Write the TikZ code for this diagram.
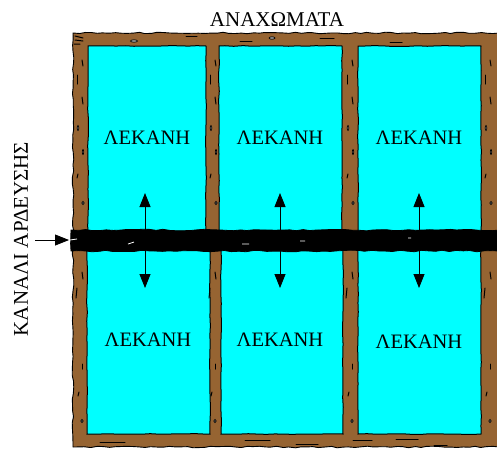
\documentclass[tikz,border=0pt]{standalone}
\usepackage{fontspec}
\setmainfont{Liberation Serif}
\usetikzlibrary{arrows.meta,decorations.pathmorphing}
\definecolor{wood}{RGB}{150,100,50}
\definecolor{basin}{RGB}{0,255,255}
\tikzset{
  bank/.style={fill=wood,draw=black,line width=0.9pt,decorate,decoration={random steps,segment length=6pt,amplitude=0.8pt}},
  cell/.style={fill=basin,draw=black,line width=1pt,decorate,decoration={random steps,segment length=9pt,amplitude=0.4pt}},
  canal/.style={fill=black,draw=black,line width=0.8pt,decorate,decoration={random steps,segment length=7pt,amplitude=0.8pt}},
  lbl/.style={font=\fontsize{20.5pt}{21pt}\selectfont,text=black,inner sep=0pt},
  lblw/.style={font=\fontsize{21pt}{22pt}\selectfont,text=black,inner sep=0pt},
  flow/.style={-{Triangle[length=14pt,width=11pt]},line width=0.8pt,draw=black},
  crack/.style={line width=1pt,line cap=round,draw=black},
  knot/.style={line width=0.7pt,draw=black,fill=black!35}
}
\begin{document}
\begin{tikzpicture}[x=1pt,y=-1pt]
\useasboundingbox (0,0) rectangle (497,448);
\pgfmathsetseed{7}
% banks
\draw[bank] (73,33) rectangle (499,447);
% basins
\draw[cell] (88,46) rectangle (206,232);
\draw[cell] (219,46) rectangle (342,232);
\draw[cell] (358,46) rectangle (481,232);
\draw[cell] (87,249) rectangle (210,434);
\draw[cell] (221,249) rectangle (343,434);
\draw[cell] (358,249) rectangle (481,434);
% cracks
\foreach \x in {0,133,270,408}{
  \foreach \ya/\yb in {60/66,97/104}
    \draw[crack] (\x+82,\ya) -- (\x+83,\yb);
  \draw[crack] (\x+77,75) -- (\x+77,84);
  \draw[crack] (\x+77,178) -- (\x+78,174);
  \draw[knot] (\x+78,128) ellipse (0.8 and 2.5);
  \draw[knot] (\x+83,152) ellipse (0.7 and 2.5);
  \draw[knot] (\x+83,203) ellipse (1.2 and 1.6);
}
\foreach \x in {0,133,270,408}{
  \draw[crack] (\x+82,272) -- (\x+83,279);
  \draw[crack] (\x+77,288) -- (\x+76,298);
  \draw[crack] (\x+82,364) -- (\x+82,369);
  \draw[crack] (\x+79,392) -- (\x+78,396);
  \draw[knot] (\x+82,421) ellipse (1.2 and 1.6);
}
\foreach \xa/\xb/\y in {186/197/36,240/252/41,320/334/38,390/402/42,396/418/439,353/372/440,296/318/444,434/447/445,100/125/442,245/270/440}
  \draw[crack] (\xa,\y) -- (\xb,\y);
\draw[knot] (134,41) ellipse (3.5 and 1.2);
\draw[knot] (272,38) ellipse (3 and 1.2);
\draw[crack] (75,36) -- (83,38) (75,40) -- (83,41) (74,44) -- (80,44);
% canal
\draw[canal] (71,230) rectangle (499,251);
\draw[white,line width=0.8pt] (128,244) -- (134,242) (300,241) -- (305,241) (408,238) -- (411,238) (242,244) -- (249,244) (70,240) -- (77,239);
% labels
\node[lbl] (b1) at (147,138) {ΛΕΚΑΝΗ};
\node[lbl] (b2) at (280,138) {ΛΕΚΑΝΗ};
\node[lbl] (b3) at (419,138) {ΛΕΚΑΝΗ};
\node[lbl] (b4) at (148,340) {ΛΕΚΑΝΗ};
\node[lbl] (b5) at (280,340) {ΛΕΚΑΝΗ};
\node[lbl] (b6) at (419,342) {ΛΕΚΑΝΗ};
\node[lblw] (top) at (277,20) {ΑΝΑΧΩΜΑΤΑ};
\node[lblw,rotate=90] (side) at (21,239) {ΚΑΝΑΛΙ ΑΡΔΕΥΣΗΣ};
% arrows
\foreach \i/\x in {1/145,2/280,3/419}{
  \coordinate (m\i) at (\x,240);
  \coordinate (u\i) at (\x,193);
  \coordinate (d\i) at (\x,288);
  \draw[flow] (m\i) -- (u\i);
  \draw[flow] (m\i) -- (d\i);
}
\coordinate (inS) at (35,240);
\coordinate (inE) at (69,240);
\draw[flow] (inS) -- (inE);
\end{tikzpicture}
\end{document}
